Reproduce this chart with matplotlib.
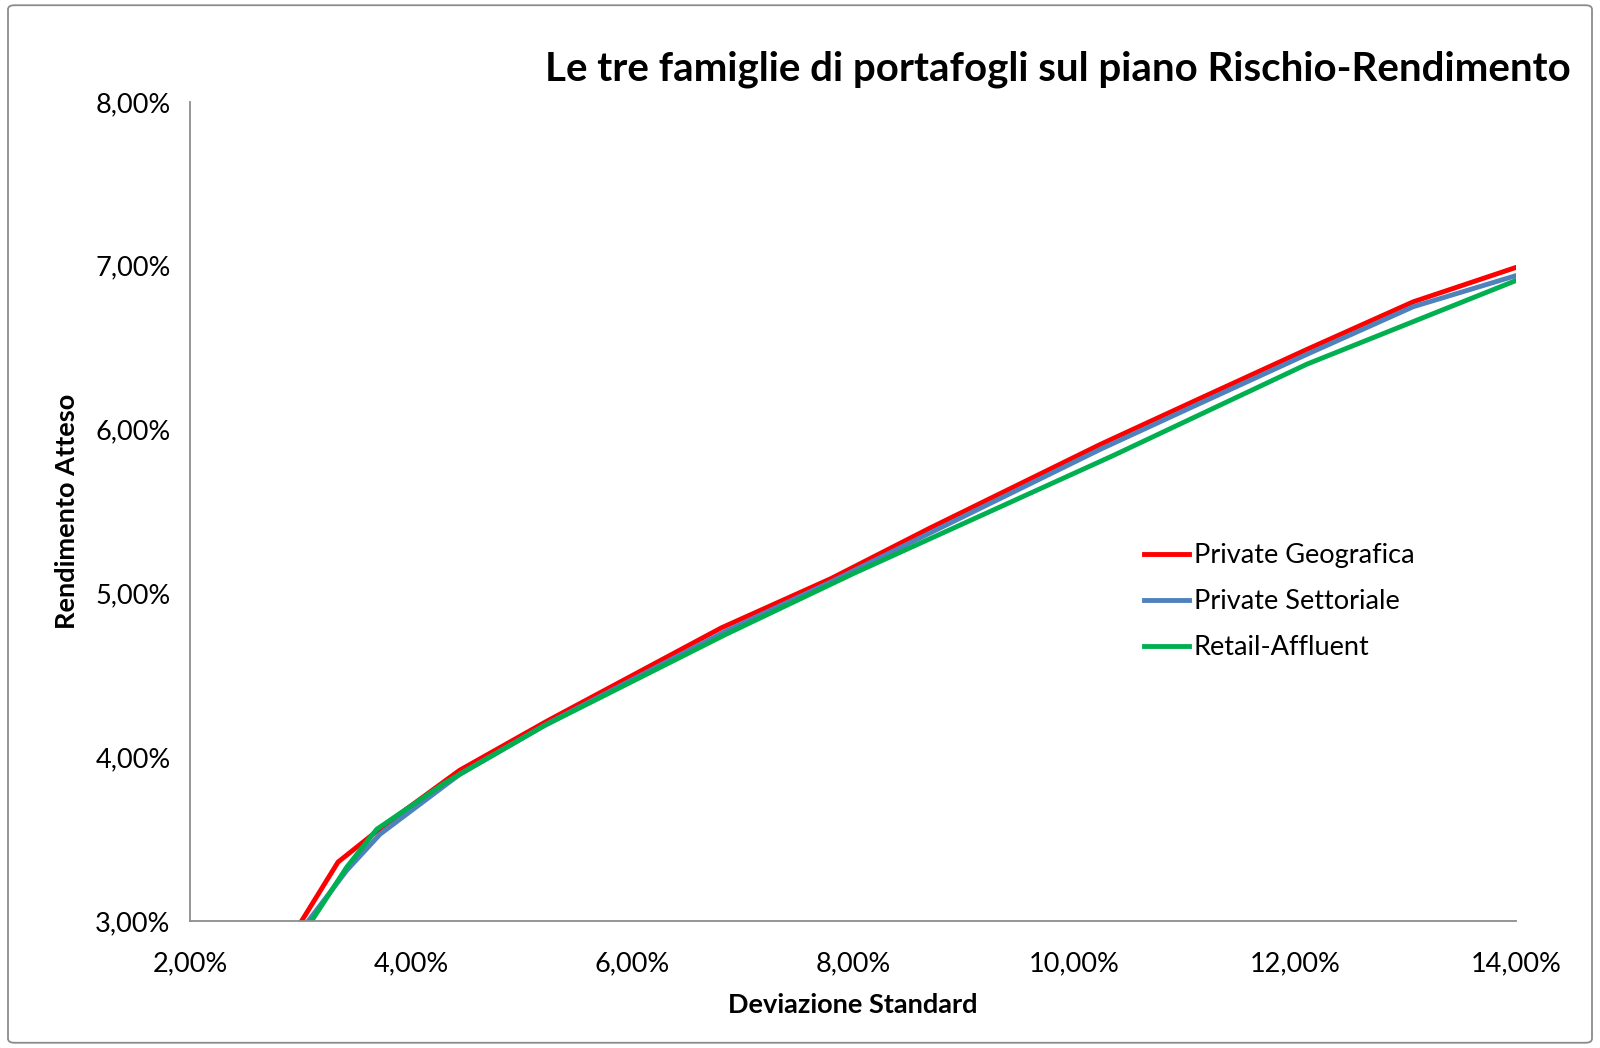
import matplotlib.pyplot as plt
from matplotlib.ticker import FuncFormatter
from matplotlib.patches import FancyBboxPatch

plt.rcParams['font.family'] = ['Lato', 'DejaVu Sans']

# Deviazione standard (%) e rendimento atteso (%)
geo_sd = [3.01, 3.34, 3.75, 4.44, 5.23, 6.81, 7.80, 8.70, 10.24, 11.14, 12.11, 13.07, 14.00]
geo_ret = [3.00, 3.36, 3.58, 3.92, 4.22, 4.79, 5.09, 5.40, 5.91, 6.19, 6.49, 6.78, 6.99]

sett_sd = [3.07, 3.42, 3.72, 4.45, 5.25, 6.85, 7.80, 8.70, 10.24, 11.14, 12.11, 13.07, 14.00]
sett_ret = [3.00, 3.31, 3.53, 3.90, 4.21, 4.77, 5.07, 5.37, 5.88, 6.16, 6.46, 6.75, 6.94]

retail_sd = [3.10, 3.42, 3.69, 4.30, 5.20, 6.85, 8.00, 10.35, 12.11, 14.00]
retail_ret = [3.00, 3.33, 3.56, 3.84, 4.19, 4.75, 5.12, 5.84, 6.40, 6.91]

x_ticks = [2, 4, 6, 8, 10, 12, 14]
y_ticks = [3, 4, 5, 6, 7, 8]

fig = plt.figure(figsize=(16, 10.48), dpi=100)
ax = fig.add_axes([0.11875, 0.1212, 0.82875, 0.7815])

ax.plot(geo_sd, geo_ret, color='#FF0000', lw=3.5, label='Private Geografica')
ax.plot(sett_sd, sett_ret, color='#4F81BD', lw=3.5, label='Private Settoriale')
ax.plot(retail_sd, retail_ret, color='#00B050', lw=3.5, label='Retail-Affluent')

ax.set_xlim(2, 14)
ax.set_ylim(3, 8)
ax.set_xticks(x_ticks)
ax.set_yticks(y_ticks)
pct = FuncFormatter(lambda v, p: ('%.2f%%' % v).replace('.', ','))
ax.xaxis.set_major_formatter(pct)
ax.yaxis.set_major_formatter(pct)
ax.tick_params(length=0, labelsize=19.5, pad=14)
ax.tick_params(axis='x', pad=22)

for s in ['top', 'right']:
    ax.spines[s].set_visible(False)
for s in ['left', 'bottom']:
    ax.spines[s].set_color('#8c8c8c')
    ax.spines[s].set_linewidth(1.3)

ax.set_xlabel('Deviazione Standard', fontsize=19.5, fontweight='bold', labelpad=12)
ax.set_ylabel('Rendimento Atteso', fontsize=19.5, fontweight='bold', labelpad=12)

fig.text(0.982, 0.934, 'Le tre famiglie di portafogli sul piano Rischio-Rendimento',
         ha='right', va='center', fontsize=29, fontweight='bold')

ax.legend(loc='upper left', bbox_to_anchor=(0.700, 0.505), bbox_transform=fig.transFigure,
          frameon=False, fontsize=19.5, handlelength=1.65, handletextpad=0.18,
          labelspacing=0.78)

border = FancyBboxPatch((0.005, 0.005), 0.99, 0.99, boxstyle='round,pad=0,rounding_size=0.004',
                        transform=fig.transFigure, fill=False, edgecolor='#8c8c8c', lw=1.3)
fig.patches.append(border)

fig.savefig('out.png', dpi=100)
